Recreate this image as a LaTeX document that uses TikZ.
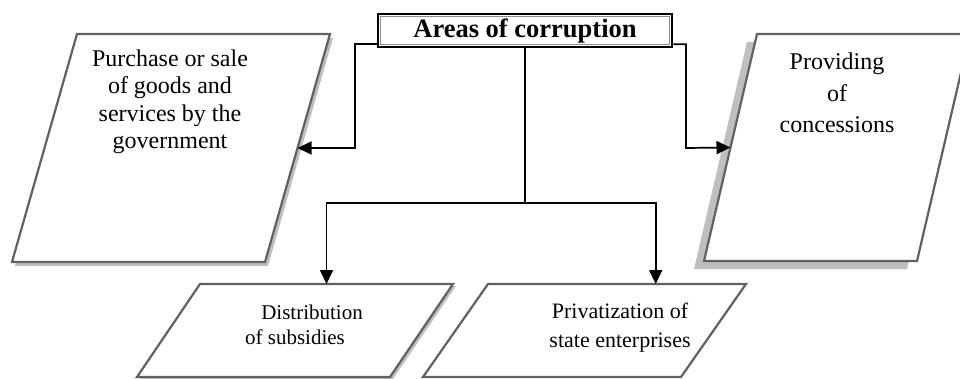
\documentclass[tikz,border=0pt]{standalone}
\usepackage{fontspec}
\setmainfont{Liberation Serif}
\usetikzlibrary{calc}
\usetikzlibrary{arrows.meta,shadows}

\begin{document}
\begin{tikzpicture}[x=1pt, y=-1pt,
    pbox/.style={draw=black!62, line width=2.2pt, fill=white},
    link/.style={draw, line width=1.7pt, -{Triangle[length=14pt, width=13pt]}},
    txt/.style={align=center, inner sep=0pt},
    topbox/.style={draw, line width=2.6pt, minimum width=294pt, minimum height=33pt,
        inner sep=0pt, font=\fontsize{26.5}{28}\selectfont\bfseries},
    ]
    \useasboundingbox (0,0) rectangle (960,379);
    \clip (0,0) rectangle (960,379);

    % corners of the four fields
    \coordinate (A-tl) at (77,34);   \coordinate (A-tr) at (330,34);
    \coordinate (A-br) at (265,262); \coordinate (A-bl) at (12,262);
    \coordinate (B-tl) at (757,34);  \coordinate (B-tr) at (970,34);
    \coordinate (B-br) at (917,261); \coordinate (B-bl) at (704,261);
    \coordinate (C-tl) at (200,284); \coordinate (C-tr) at (453,284);
    \coordinate (C-br) at (390,377); \coordinate (C-bl) at (137,377);
    \coordinate (D-tl) at (488,284); \coordinate (D-tr) at (746,284);
    \coordinate (D-br) at (681,377); \coordinate (D-bl) at (423,377);

    \path[pbox, drop shadow={shadow xshift=3pt, shadow yshift=-4pt, fill=black!25, opacity=1}]
        (A-tl) -- (A-tr) -- (A-br) -- (A-bl) -- cycle;
    \path[pbox, drop shadow={shadow xshift=-10pt, shadow yshift=-8pt, fill=black!25, opacity=1}]
        (B-tl) -- (B-tr) -- (B-br) -- (B-bl) -- cycle;
    \path[pbox, drop shadow={shadow xshift=3pt, shadow yshift=-2pt, fill=black!25, opacity=1}]
        (C-tl) -- (C-tr) -- (C-br) -- (C-bl) -- cycle;
    \path[pbox] (D-tl) -- (D-tr) -- (D-br) -- (D-bl) -- cycle;

    % texts
    \node[txt, font=\fontsize{24}{27.5}\selectfont] (tA) at (170,102)
        {Purchase or sale\\of goods and\\services by the\\government};
    \node[txt, font=\fontsize{24}{31.5}\selectfont] (tB) at (837,93)
        {Providing\\of\\concessions};
    \node[txt, font=\fontsize{21}{25}\selectfont] (tC) at (295,325)
        {\hspace*{34pt}Distribution\\of subsidies};
    \node[txt, font=\fontsize{22}{29}\selectfont] (tD) at (620,328)
        {Privatization of\\state enterprises};

    \node[topbox] (areas) at (525,30.5) {Areas of corruption};
    \draw[black!45, line width=0.9pt] ($(areas.north west)+(4,4)$) rectangle ($(areas.south east)+(-4,-4)$);

    % connectors
    \coordinate (Ain) at ($(A-tr)!.5!(A-br)$);
    \coordinate (Bin) at ($(B-tl)!.5!(B-bl)$);
    \coordinate (Cin) at ($(C-tl)!.5!(C-tr)$);
    \coordinate (Din) at ($(D-tl)!.65!(D-tr)$);
    \coordinate (Lbend) at (355,148);
    \coordinate (Rbend) at (686,148);
    \coordinate (split) at (525,203);

    \draw[link] ($(areas.south west)+(0,-4)$) -| (Lbend) -- (Ain);
    \draw[link] ($(areas.south east)+(0,-4)$) -| (Rbend) -- (Bin);
    \draw[line width=1.7pt] (areas.south) -- (split);
    \draw[link] (split) -| (Cin);
    \draw[link] (split) -| (Din);
\end{tikzpicture}
\end{document}
